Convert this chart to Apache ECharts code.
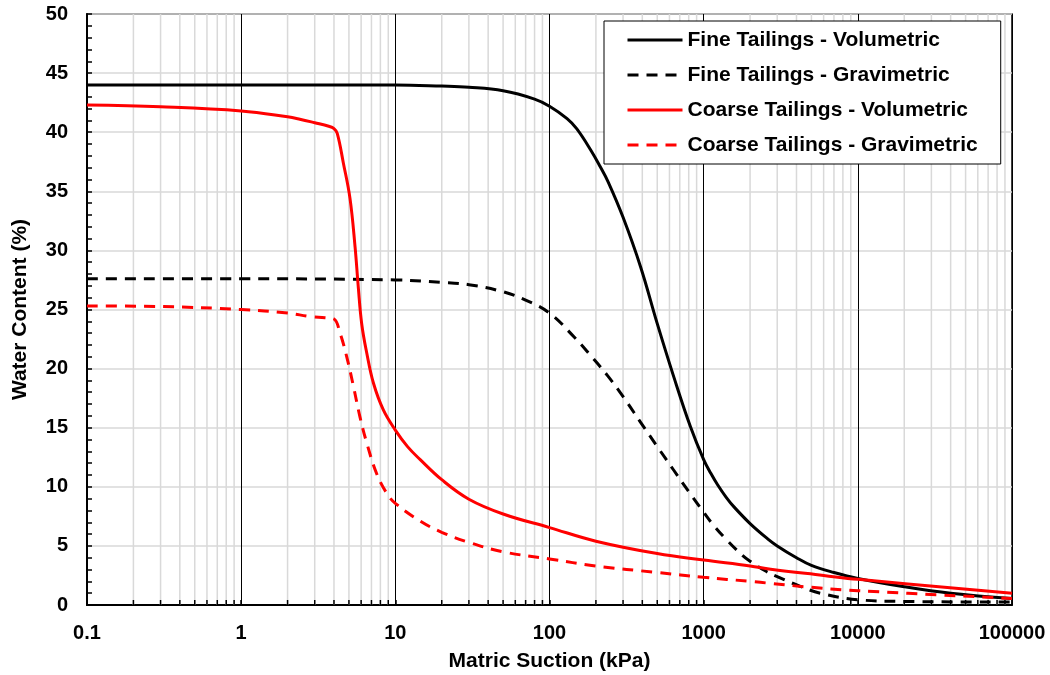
<!DOCTYPE html>
<html>
<head>
<meta charset="utf-8">
<script src="https://cdn.jsdelivr.net/npm/echarts@6/dist/echarts.min.js"></script>
<style>
  html, body { margin: 0; padding: 0; background: #fff; }
  #chart { width: 1050px; height: 675px; }
</style>
</head>
<body>
<div id="chart"></div>
<script>
// matric suction (kPa) / water content (%)
var fineVolX = [0.1, 1, 10, 20, 30, 50, 80, 100, 130, 150, 185, 213, 240, 300, 390, 500, 640, 820, 1000, 1115, 1231, 1400, 1578, 2000, 2600, 3000, 4000, 5000, 7000, 10000, 20000, 40000, 100000];
var fineVolY = [44.0, 44.0, 44.0, 43.9, 43.8, 43.5, 42.8, 42.2, 41.15, 40.3, 38.5, 37.1, 35.8, 32.8, 28.6, 23.8, 19.3, 15.1, 12.3, 11.12, 10.17, 9.11, 8.28, 6.89, 5.6, 5.0, 4.0, 3.35, 2.75, 2.25, 1.55, 1.0, 0.55];

var fineGravX = [0.1, 1, 10, 20, 30, 50, 70, 100, 145, 185, 238, 305, 390, 500, 640, 820, 1000, 1150, 1400, 1800, 2000, 2540, 3000, 4200, 5700, 10000, 20000, 100000];
var fineGravY = [27.6, 27.6, 27.5, 27.3, 27.1, 26.5, 25.8, 24.7, 22.65, 21.1, 19.4, 17.5, 15.45, 13.4, 11.4, 9.4, 7.85, 6.8, 5.55, 4.15, 3.7, 2.85, 2.4, 1.6, 1.0, 0.45, 0.3, 0.25];

var coarseVolX = [0.1, 0.3, 1, 2, 2.4, 3, 3.7, 4.0, 4.2, 4.6, 5.08, 5.48, 5.75, 6.05, 6.53, 7.2, 8.36, 10, 12, 14.5, 20, 30, 50, 100, 200, 500, 1000, 2000, 2720, 6000, 10000, 100000];
var coarseVolY = [42.3, 42.15, 41.8, 41.3, 41.1, 40.8, 40.5, 40.3, 39.9, 37.4, 34.4, 30.3, 26.9, 23.8, 21.3, 18.8, 16.5, 14.8, 13.4, 12.3, 10.6, 8.95, 7.7, 6.55, 5.4, 4.35, 3.8, 3.3, 3.02, 2.5, 2.17, 1.0];

var coarseGravX = [0.1, 0.3, 1, 2, 2.8, 3.5, 4.0, 4.38, 4.84, 5.35, 5.9, 6.53, 7.57, 8.8, 10, 14.5, 20, 30, 50, 100, 200, 500, 1000, 2000, 2720, 4470, 10000, 100000];
var coarseGravY = [25.3, 25.25, 25.0, 24.7, 24.4, 24.3, 24.2, 23.0, 21.0, 18.5, 15.9, 13.7, 11.1, 9.45, 8.6, 7.1, 6.15, 5.3, 4.5, 3.9, 3.3, 2.75, 2.34, 2.0, 1.83, 1.55, 1.21, 0.56];

var seriesNames = ['Fine Tailings - Volumetric', 'Fine Tailings - Gravimetric', 'Coarse Tailings - Volumetric', 'Coarse Tailings - Gravimetric'];

// axis decades and minor steps inside each decade
var decades = [0.1, 1, 10, 100, 1000, 10000];
var minorSteps = [2, 3, 4, 5, 6, 7, 8, 9];

function pairs(xs, ys) {
  var out = [];
  for (var i = 0; i < xs.length; i++) out.push([xs[i], ys[i]]);
  return out;
}

var minorData = [];
decades.forEach(function (d) {
  minorSteps.forEach(function (m) { minorData.push([+(d * m).toPrecision(3)]); });
});

var font = 'Liberation Sans, Arial, sans-serif';

function curve(name, color, dashed, xs, ys) {
  return {
    name: name,
    type: 'line',
    symbol: 'circle',
    showSymbol: false,
    smooth: 0.4,
    z: 5,
    lineStyle: { color: color, width: 3, type: dashed ? [11, 8] : 'solid' },
    itemStyle: { color: color },
    data: pairs(xs, ys)
  };
}

var chart = echarts.init(document.getElementById('chart'));
var option = {
  animation: false,
  backgroundColor: '#fff',
  grid: {
    left: 87, right: 38, top: 14, bottom: 70,
    outerBoundsMode: 'none',
    show: true, borderColor: '#000', borderWidth: 1.5
  },
  legend: {
    orient: 'vertical',
    left: 604, top: 21,
    padding: [7, 23, 7, 22],
    backgroundColor: '#fff',
    borderColor: '#000',
    borderWidth: 1,
    borderRadius: 0,
    itemWidth: 55,
    itemHeight: 14,
    itemGap: 11,
    itemStyle: { opacity: 0 },
    lineStyle: { width: 3 },
    textStyle: { fontFamily: font, fontWeight: 'bold', fontSize: 21, color: '#000', lineHeight: 24 },
    data: seriesNames
  },
  xAxis: {
    type: 'log',
    logBase: 10,
    min: 0.1,
    max: 100000,
    interval: 1,
    name: 'Matric Suction (kPa)',
    nameLocation: 'middle',
    nameGap: 46,
    nameTextStyle: { fontFamily: font, fontWeight: 'bold', fontSize: 21, color: '#000' },
    axisLine: { lineStyle: { color: '#000', width: 2 } },
    axisTick: { inside: true, length: 5, lineStyle: { color: '#000', width: 1.5 } },
    axisLabel: {
      fontFamily: font, fontWeight: 'bold', fontSize: 20, color: '#000', margin: 18,
      formatter: function (v) { return v < 1 ? v.toFixed(1) : String(Math.round(v)); }
    },
    splitLine: { show: true, lineStyle: { color: '#000', width: 1 } }
  },
  yAxis: {
    type: 'value',
    min: 0,
    max: 50,
    interval: 5,
    name: 'Water Content (%)',
    nameLocation: 'middle',
    nameGap: 56,
    nameTextStyle: { fontFamily: font, fontWeight: 'bold', fontSize: 21, color: '#000' },
    axisLine: { lineStyle: { color: '#000', width: 2 } },
    axisTick: { inside: true, length: 5, lineStyle: { color: '#000', width: 1.5 } },
    minorTick: { show: true, splitNumber: 5, length: 5, lineStyle: { color: '#000', width: 1.5 } },
    axisLabel: { fontFamily: font, fontWeight: 'bold', fontSize: 20, color: '#000', margin: 19 },
    splitLine: { show: true, lineStyle: { color: '#d9d9d9', width: 1.5 } }
  },
  series: [
    {
      // minor decade grid lines and their ticks
      name: 'minor',
      type: 'custom',
      silent: true,
      z: 1,
      encode: { x: 0 },
      renderItem: function (params, api) {
        var x = api.value(0);
        var p0 = api.coord([x, 0]);
        var p1 = api.coord([x, 50]);
        return {
          type: 'group',
          children: [
            { type: 'line', shape: { x1: p0[0], y1: p0[1], x2: p1[0], y2: p1[1] },
              style: { stroke: '#d9d9d9', lineWidth: 1.5 } },
            { type: 'line', shape: { x1: p0[0], y1: p0[1], x2: p0[0], y2: p0[1] - 5 },
              style: { stroke: '#000', lineWidth: 1.5 }, z2: 10 }
          ]
        };
      },
      data: minorData
    },
    curve(seriesNames[0], '#000', false, fineVolX, fineVolY),
    curve(seriesNames[1], '#000', true, fineGravX, fineGravY),
    curve(seriesNames[2], '#ff0000', false, coarseVolX, coarseVolY),
    curve(seriesNames[3], '#ff0000', true, coarseGravX, coarseGravY)
  ]
};
chart.setOption(option);
</script>
</body>
</html>
